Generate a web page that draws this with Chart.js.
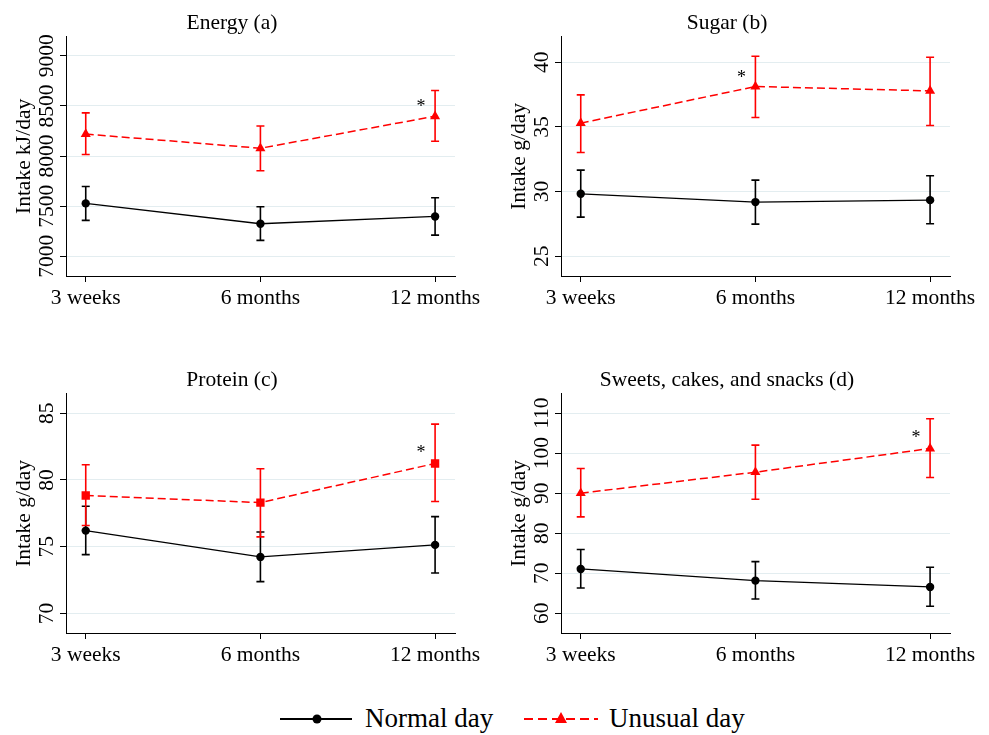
<!DOCTYPE html>
<html lang="en">
<head>
<meta charset="UTF-8" />
<title>Intake by time point</title>
<script src="https://cdn.jsdelivr.net/npm/chart.js"></script>
<style>
  body {
    margin: 0;
    background: #fff;
    width: 989px;
    height: 735px;
    position: relative;
    overflow: hidden;
    font-family: "Liberation Serif", serif;
  }
  canvas { position: absolute; }
  .legsym { position: absolute; top: 709px; }
  .legtxt {
    position: absolute;
    top: 705px;
    font-size: 27px;
    line-height: 27px;
    color: #000;
    white-space: nowrap;
  }
</style>
</head>
<body>

<canvas id="energy" width="485" height="320" style="left:0;top:0"></canvas>
<canvas id="sugar" width="485" height="320" style="left:495px;top:0"></canvas>
<canvas id="protein" width="485" height="320" style="left:0;top:357px"></canvas>
<canvas id="sweets" width="485" height="320" style="left:495px;top:357px"></canvas>

<svg class="legsym" style="left:280px" width="72" height="20">
  <line x1="0" y1="10" x2="72" y2="10" stroke="#000" stroke-width="2"/>
  <circle cx="37" cy="10" r="4.5" fill="#000"/>
</svg>
<div class="legtxt" style="left:365px">Normal day</div>
<svg class="legsym" style="left:524px" width="74" height="20">
  <line x1="0" y1="10" x2="74" y2="10" stroke="#ff0000" stroke-width="2" stroke-dasharray="9 5"/>
  <polygon points="37,3 43,14 31,14" fill="#ff0000"/>
</svg>
<div class="legtxt" style="left:609px">Unusual day</div>

<script>
  const categories = ['3 weeks', '6 months', '12 months'];

  // Energy (a)
  const energyNormal = [7528, 7325, 7398];
  const energyNormalLo = [7359, 7159, 7212];
  const energyNormalHi = [7697, 7494, 7584];
  const energyUnusual = [8219, 8078, 8397];
  const energyUnusualLo = [8016, 7853, 8148];
  const energyUnusualHi = [8430, 8300, 8653];
  const energyTicks = [7000, 7500, 8000, 8500, 9000];
  const energyRange = [6804, 9189];
  const energyStar = [2, 8541];

  // Sugar (b)
  const sugarNormal = [29.83, 29.19, 29.34];
  const sugarNormalLo = [28.03, 27.49, 27.52];
  const sugarNormalHi = [31.66, 30.89, 31.22];
  const sugarUnusual = [35.29, 38.12, 37.78];
  const sugarUnusualLo = [33.02, 35.72, 35.11];
  const sugarUnusualHi = [37.47, 40.46, 40.38];
  const sugarTicks = [25, 30, 35, 40];
  const sugarRange = [23.48, 41.96];
  const sugarStar = [1, 39.2];

  // Protein (c)
  const proteinNormal = [76.2, 74.23, 75.13];
  const proteinNormalLo = [74.4, 72.38, 73.03];
  const proteinNormalHi = [78.03, 76.1, 77.25];
  const proteinUnusual = [78.83, 78.3, 81.23];
  const proteinUnusualLo = [76.58, 75.73, 78.38];
  const proteinUnusualHi = [81.13, 80.83, 84.18];
  const proteinTicks = [70, 75, 80, 85];
  const proteinRange = [68.53, 86.45];
  const proteinStar = [2, 82.38];

  // Sweets, cakes, and snacks (d)
  const sweetsNormal = [71.08, 68.17, 66.58];
  const sweetsNormalLo = [66.33, 63.58, 61.75];
  const sweetsNormalHi = [75.92, 72.92, 71.5];
  const sweetsUnusual = [90.0, 95.25, 101.17];
  const sweetsUnusualLo = [84.08, 88.5, 93.92];
  const sweetsUnusualHi = [96.17, 102.0, 108.58];
  const sweetsTicks = [60, 70, 80, 90, 100, 110];
  const sweetsRange = [55.08, 114.83];
  const sweetsStar = [2, 105.0];

  const FONT = '"Liberation Serif", serif';
  const RED = '#ff0000';
  Chart.defaults.font.family = FONT;
  Chart.defaults.color = '#000';

  // error bars under the markers
  const errorBars = {
    id: 'errorBars',
    beforeDatasetsDraw(chart) {
      const { ctx, scales: { x, y } } = chart;
      chart.data.datasets.forEach(ds => {
        ctx.save();
        ctx.strokeStyle = ds.borderColor;
        ctx.lineWidth = 1.6;
        ds.lo.forEach((lo, i) => {
          const px = x.getPixelForValue(i);
          const top = y.getPixelForValue(ds.hi[i]);
          const bot = y.getPixelForValue(lo);
          ctx.beginPath();
          ctx.moveTo(px, top); ctx.lineTo(px, bot);
          ctx.moveTo(px - 4, top); ctx.lineTo(px + 4, top);
          ctx.moveTo(px - 4, bot); ctx.lineTo(px + 4, bot);
          ctx.stroke();
        });
        ctx.restore();
      });
    }
  };

  // vertical y tick labels + significance star
  const extras = {
    id: 'extras',
    afterDraw(chart) {
      const { ctx, scales: { x, y } } = chart;
      ctx.save();
      ctx.fillStyle = '#000';
      ctx.font = '21.5px ' + FONT;
      ctx.textAlign = 'center';
      ctx.textBaseline = 'alphabetic';
      y.ticks.forEach(t => {
        ctx.save();
        ctx.translate(y.right - 13, y.getPixelForValue(t.value));
        ctx.rotate(-Math.PI / 2);
        ctx.fillText(String(t.value), 0, 0);
        ctx.restore();
      });
      const star = chart.options.plugins.extras.star;
      ctx.font = '18px ' + FONT;
      ctx.fillText('*', x.getPixelForValue(star[0]) - 14, y.getPixelForValue(star[1]) + 10);
      ctx.restore();
    }
  };

  function makePanel(id, title, yTitle, range, ticks, star, normal, nLo, nHi, unusual, uLo, uHi, uStyle) {
    const pts = arr => arr.map((v, i) => ({ x: i, y: v }));
    new Chart(document.getElementById(id), {
      type: 'line',
      data: {
        datasets: [
          {
            label: 'Normal day',
            data: pts(normal), lo: nLo, hi: nHi,
            borderColor: '#000', borderWidth: 1.3,
            pointStyle: 'circle', pointRadius: 4.2,
            pointBackgroundColor: '#000', pointBorderWidth: 0
          },
          {
            label: 'Unusual day',
            data: pts(unusual), lo: uLo, hi: uHi,
            borderColor: RED, borderWidth: 1.5, borderDash: [8, 4],
            pointStyle: uStyle, pointRadius: uStyle === 'rect' ? 5.9 : 5.8,
            pointBackgroundColor: RED, pointBorderWidth: 0
          }
        ]
      },
      options: {
        responsive: false,
        animation: false,
        events: [],
        layout: { padding: { left: 9, right: 30, top: 0, bottom: 0 } },
        plugins: {
          legend: { display: false },
          tooltip: { enabled: false },
          title: {
            display: true, text: title, color: '#000',
            font: { family: FONT, size: 21.5, weight: 'normal' },
            padding: { top: 10, bottom: 1 }
          },
          extras: { star: star }
        },
        scales: {
          x: {
            type: 'linear', min: -0.113, max: 2.114, offset: false,
            afterBuildTicks: s => { s.ticks = categories.map((c, i) => ({ value: i })); },
            afterFit: s => { s.height = 44; s.paddingLeft = 0; s.paddingRight = 0; },
            ticks: {
              callback: v => categories[v],
              font: { family: FONT, size: 21.5 }, color: '#000',
              padding: 3, maxRotation: 0, autoSkip: false
            },
            grid: { drawOnChartArea: false, drawTicks: true, tickLength: 6, tickColor: '#000' },
            border: { display: true, color: '#000', width: 1 }
          },
          y: {
            type: 'linear', min: range[0], max: range[1],
            afterBuildTicks: s => { s.ticks = ticks.map(v => ({ value: v })); },
            afterFit: s => { s.width = 57; s.paddingTop = 0; s.paddingBottom = 0; },
            ticks: { display: false },
            grid: { color: '#e3edf0', lineWidth: 1, drawTicks: true, tickLength: 6, tickColor: '#000' },
            border: { display: true, color: '#000', width: 1 },
            title: {
              display: true, text: yTitle, color: '#000',
              font: { family: FONT, size: 21.5 },
              padding: { top: 2, bottom: 0 }
            }
          }
        }
      },
      plugins: [errorBars, extras]
    });
  }

  makePanel('energy', 'Energy (a)', 'Intake kJ/day', energyRange, energyTicks, energyStar,
    energyNormal, energyNormalLo, energyNormalHi, energyUnusual, energyUnusualLo, energyUnusualHi, 'triangle');
  makePanel('sugar', 'Sugar (b)', 'Intake g/day', sugarRange, sugarTicks, sugarStar,
    sugarNormal, sugarNormalLo, sugarNormalHi, sugarUnusual, sugarUnusualLo, sugarUnusualHi, 'triangle');
  makePanel('protein', 'Protein (c)', 'Intake g/day', proteinRange, proteinTicks, proteinStar,
    proteinNormal, proteinNormalLo, proteinNormalHi, proteinUnusual, proteinUnusualLo, proteinUnusualHi, 'rect');
  makePanel('sweets', 'Sweets, cakes, and snacks (d)', 'Intake g/day', sweetsRange, sweetsTicks, sweetsStar,
    sweetsNormal, sweetsNormalLo, sweetsNormalHi, sweetsUnusual, sweetsUnusualLo, sweetsUnusualHi, 'triangle');
</script>

</body>
</html>
